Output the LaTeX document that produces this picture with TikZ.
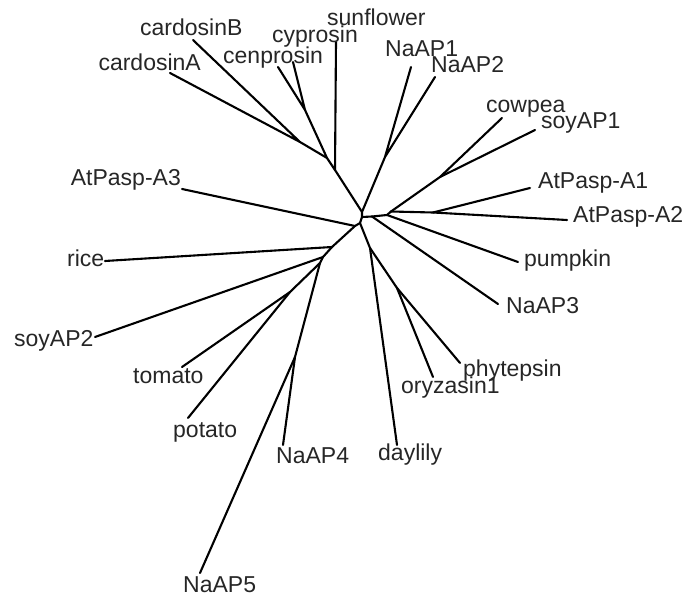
\documentclass[tikz,border=0pt]{standalone}
\usepackage{fontspec}
\setmainfont{Liberation Sans}
\begin{document}
\begin{tikzpicture}[x=1pt,y=-1pt,
  branch/.style={line width=2.1pt, line cap=round, line join=round},
  taxon/.style={inner sep=0pt, font=\fontsize{23}{27}\selectfont, text=black!85}]
\useasboundingbox (0,0) rectangle (686,596);
% internal nodes
\coordinate (V1) at (362,212);
\coordinate (V2) at (362,217);
\coordinate (V3) at (360,223);
\coordinate (S) at (335,170);
\coordinate (Cj) at (327,158);
\coordinate (Cp) at (305,110);
\coordinate (Cd) at (300,142);
\coordinate (Na) at (385,157);
\coordinate (R1) at (372,216.5);
\coordinate (R2) at (387,215);
\coordinate (R3) at (391,211.5);
\coordinate (G) at (440,177);
\coordinate (A) at (433,212.5);
\coordinate (L1) at (355,226);
\coordinate (L2) at (332,247);
\coordinate (L3) at (323,257);
\coordinate (L4) at (320,263);
\coordinate (TP) at (290,292);
\coordinate (N45) at (295,357);
\coordinate (B1) at (370,248);
\coordinate (B2) at (397,288);
% tips
\coordinate (tsun) at (336,42);
\coordinate (tcyp) at (293,62);
\coordinate (tcen) at (278,67);
\coordinate (tcdB) at (193,40);
\coordinate (tcdA) at (170,73);
\coordinate (tna1) at (411,67);
\coordinate (tna2) at (435,77);
\coordinate (tcow) at (502,118);
\coordinate (tsy1) at (535,130);
\coordinate (ta1) at (530,188);
\coordinate (ta2) at (567,220);
\coordinate (tpum) at (518,262);
\coordinate (tna3) at (498,304);
\coordinate (tphy) at (460,363);
\coordinate (tory) at (433,377);
\coordinate (tday) at (397,445);
\coordinate (tna4) at (283,445);
\coordinate (tna5) at (200,573);
\coordinate (tpot) at (188,418);
\coordinate (ttom) at (182,367);
\coordinate (tsy2) at (95,337);
\coordinate (trice) at (105,261);
\coordinate (ta3) at (182,189);
% branches
\draw[branch] (tsun) -- (S) -- (V1);
\draw[branch] (tcyp) -- (Cp) -- (tcen);
\draw[branch] (Cp) -- (Cj) -- (S);
\draw[branch] (tcdB) -- (Cd) -- (tcdA);
\draw[branch] (Cd) -- (Cj);
\draw[branch] (tna1) -- (Na) -- (tna2);
\draw[branch] (Na) -- (V1) -- (V2) -- (V3);
\draw[branch] (V2) -- (R1) -- (R2) -- (R3);
\draw[branch] (R1) -- (tna3);
\draw[branch] (R2) -- (tpum);
\draw[branch] (R3) -- (G) -- (tcow);
\draw[branch] (G) -- (tsy1);
\draw[branch] (R3) -- (A) -- (ta2);
\draw[branch] (A) -- (ta1);
\draw[branch] (V3) -- (L1) -- (L2) -- (L3) -- (L4);
\draw[branch] (L1) -- (ta3);
\draw[branch] (L2) -- (trice);
\draw[branch] (L3) -- (tsy2);
\draw[branch] (L4) -- (TP) -- (ttom);
\draw[branch] (TP) -- (tpot);
\draw[branch] (L4) -- (N45) -- (tna4);
\draw[branch] (N45) -- (tna5);
\draw[branch] (V3) -- (B1) -- (tday);
\draw[branch] (B1) -- (B2) -- (tphy);
\draw[branch] (B2) -- (tory);
% labels
\node[taxon, anchor=base west] (lsun) at (327,26) {sunflower};
\node[taxon, anchor=base west] (lcyp) at (272,43) {cyprosin};
\node[taxon, anchor=base west] (lcen) at (223,64) {cenprosin};
\node[taxon, anchor=base west] (lcdB) at (140,36) {cardosinB};
\node[taxon, anchor=base east] (lcdA) at (201,71) {cardosinA};
\node[taxon, anchor=base west] (lna1) at (385,57) {NaAP1};
\node[taxon, anchor=base west] (lna2) at (431,73) {NaAP2};
\node[taxon, anchor=base west] (lcow) at (486,113) {cowpea};
\node[taxon, anchor=base west] (lsy1) at (541,129) {soyAP1};
\node[taxon, anchor=base west] (la1) at (538,189) {AtPasp-A1};
\node[taxon, anchor=base west] (la2) at (573,223) {AtPasp-A2};
\node[taxon, anchor=base west] (lpum) at (524,267) {pumpkin};
\node[taxon, anchor=base west] (lna3) at (506,314) {NaAP3};
\node[taxon, anchor=base west] (lphy) at (463,376) {phytepsin};
\node[taxon, anchor=base west] (lory) at (401,393) {oryzasin1};
\node[taxon, anchor=base west] (lday) at (378,460) {daylily};
\node[taxon, anchor=base west] (lna4) at (276,463) {NaAP4};
\node[taxon, anchor=base west] (lna5) at (183,592) {NaAP5};
\node[taxon, anchor=base west] (lpot) at (173,437) {potato};
\node[taxon, anchor=base west] (ltom) at (133,383) {tomato};
\node[taxon, anchor=base west] (lsy2) at (14,346) {soyAP2};
\node[taxon, anchor=base west] (lrice) at (67,267) {rice};
\node[taxon, anchor=base east] (la3) at (181,186) {AtPasp-A3};
\end{tikzpicture}
\end{document}
